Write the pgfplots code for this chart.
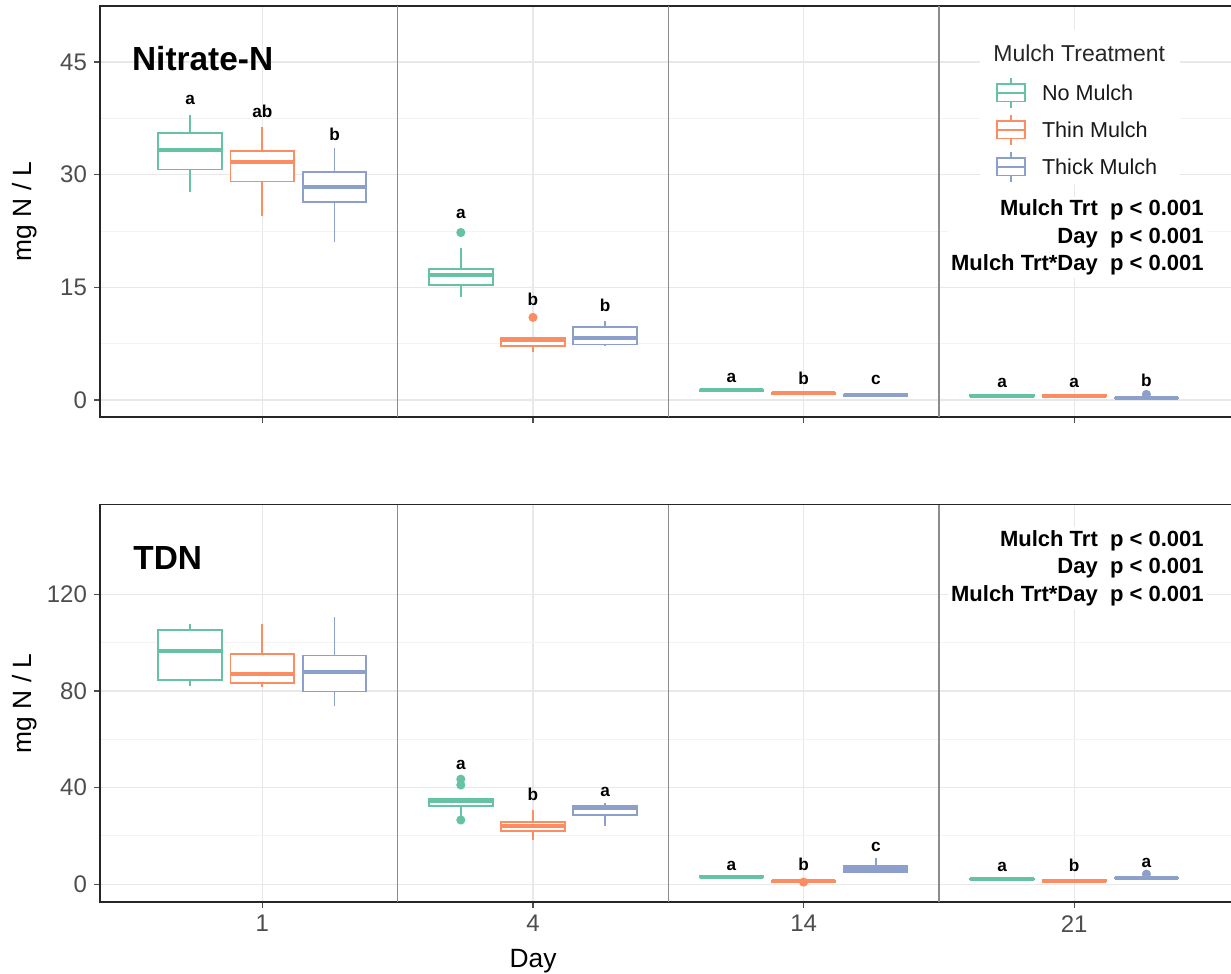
\documentclass[border=0pt]{standalone}
\usepackage{pgfplots}
\pgfplotsset{compat=1.18}
\usepgfplotslibrary{statistics}
\usepackage{fontspec}
\setmainfont{Liberation Sans}
\definecolor{cA}{HTML}{66C2A5}
\definecolor{cB}{HTML}{FC8D62}
\definecolor{cC}{HTML}{8DA0CB}
\definecolor{gridmaj}{HTML}{E8E8E8}
\definecolor{gridmin}{HTML}{F3F3F3}
\definecolor{tickgrey}{HTML}{4D4D4D}

\newcommand{\bp}[8]{%
 \addplot[forget plot, draw=#1, fill=white, line width=0.9pt, mark=*, mark size=1.8pt,
   mark options={draw=#1,fill=#1,solid},
   boxplot prepared={draw direction=y, draw position=#2, lower whisker=#3, lower quartile=#4,
   median=#5, upper quartile=#6, upper whisker=#7}] coordinates {#8};}
\newcommand{\lab}[3]{\node[anchor=base, inner sep=0pt, font=\bfseries\fontsize{8.6}{8.6}\selectfont] at (axis cs:#1,#2) {#3};}

\pgfplotsset{panel/.style={
  scale only axis, width=568.3pt, xmin=0.4, xmax=4.6,
  xtick={1,2,3,4}, xtick pos=bottom, ytick pos=left,
  tick align=outside, major tick length=3pt, minor tick length=0pt,
  tick style={color=tickgrey, line width=0.6pt},
  xmajorgrids, ymajorgrids, yminorgrids, minor y tick num=1,
  major grid style={color=gridmaj, line width=0.7pt},
  minor grid style={color=gridmin, line width=0.5pt},
  extra x ticks={1.5,2.5,3.5}, extra x tick labels={},
  extra x tick style={grid=major, major grid style={color=black!45, line width=0.8pt}, major tick length=0pt},
  axis line style={black!85, line width=0.8pt},
  ticklabel style={font=\fontsize{12}{12}\selectfont, color=tickgrey},
  /pgf/number format/assume math mode=true,
  boxplot/draw direction=y,
  boxplot/box extend=0.235, boxplot/whisker extend=0,
  boxplot/every median/.style={line width=2pt},
  boxplot/every whisker/.style={line width=0.9pt},
  boxplot/every box/.style={line width=0.9pt},
  ylabel={mg N / L},
  ylabel style={font=\fontsize{13.2}{13.2}\selectfont, at={(axis description cs:-0.066,0.5)}, anchor=center},
}}

\begin{document}
\begin{tikzpicture}
% ---------- Nitrate-N ----------
\begin{axis}[panel, at={(50pt,278.5pt)}, anchor=south west, height=205.5pt,
  ymin=-2.26, ymax=52.46, ytick={0,15,30,45}, xticklabels={}]
\bp{cA}{0.7333}{27.7}{30.7}{33.3}{35.6}{37.9}{}
\bp{cB}{1}{24.5}{29.1}{31.7}{33.2}{36.3}{}
\bp{cC}{1.2667}{21.0}{26.4}{28.3}{30.4}{33.6}{}
\bp{cA}{1.7333}{13.7}{15.3}{16.6}{17.4}{20.2}{(0,22.3)}
\bp{cB}{2}{6.4}{7.2}{8.0}{8.3}{8.3}{(0,11.0)}
\bp{cC}{2.2667}{7.2}{7.4}{8.3}{9.7}{10.5}{}
\bp{cA}{2.7333}{1.1}{1.2}{1.3}{1.4}{1.5}{}
\bp{cB}{3}{0.8}{0.85}{0.95}{1.0}{1.05}{}
\bp{cC}{3.2667}{0.45}{0.55}{0.62}{0.7}{0.95}{}
\bp{cA}{3.7333}{0.5}{0.55}{0.6}{0.65}{0.7}{}
\bp{cB}{4}{0.5}{0.55}{0.6}{0.65}{0.7}{}
\bp{cC}{4.2667}{0.15}{0.2}{0.27}{0.33}{0.4}{(0,0.75)}
\lab{0.7333}{39.3}{a}\lab{1}{37.6}{ab}\lab{1.2667}{34.6}{b}
\lab{1.7333}{24.1}{a}\lab{2}{12.6}{b}\lab{2.2667}{11.8}{b}
\lab{2.7333}{2.36}{a}\lab{3}{2.09}{b}\lab{3.2667}{2.09}{c}
\lab{3.7333}{1.64}{a}\lab{4}{1.64}{a}\lab{4.2667}{1.77}{b}
\end{axis}
% ---------- TDN ----------
\begin{axis}[panel, at={(50pt,35.85pt)}, anchor=south west, height=198.8pt,
  ymin=-7.45, ymax=157.1, ytick={0,40,80,120}, xticklabels={1,4,14,21},
  xlabel={Day},
  xlabel style={font=\fontsize{13.2}{13.2}\selectfont, at={(axis description cs:0.381,0)}, anchor=center, yshift=-29.3pt}]
\bp{cA}{0.7333}{82.0}{84.5}{96.5}{105.2}{107.7}{}
\bp{cB}{1}{81.5}{83.4}{87.0}{95.2}{107.7}{}
\bp{cC}{1.2667}{73.9}{79.8}{87.7}{94.7}{110.7}{}
\bp{cA}{1.7333}{28.3}{32.3}{34.6}{35.4}{35.4}{(0,43.5) (0,41.1) (0,26.6)}
\bp{cB}{2}{18.4}{22.1}{24.2}{25.9}{30.8}{}
\bp{cC}{2.2667}{24.2}{28.6}{31.6}{32.6}{33.8}{}
\bp{cA}{2.7333}{2.9}{3.0}{3.2}{3.4}{3.5}{}
\bp{cB}{3}{1.0}{1.1}{1.3}{1.5}{1.7}{(0,0.9)}
\bp{cC}{3.2667}{4.5}{5.0}{6.2}{7.7}{10.8}{}
\bp{cA}{3.7333}{1.9}{2.0}{2.2}{2.4}{2.5}{}
\bp{cB}{4}{1.2}{1.35}{1.5}{1.65}{1.8}{}
\bp{cC}{4.2667}{2.3}{2.45}{2.6}{2.75}{2.9}{(0,4.2)}
\lab{1.7333}{47.6}{a}\lab{2}{34.5}{b}\lab{2.2667}{36.3}{a}
\lab{2.7333}{5.6}{a}\lab{3}{5.6}{b}\lab{3.2667}{13.5}{c}
\lab{3.7333}{5.3}{a}\lab{4}{5.3}{b}\lab{4.2667}{6.9}{a}
\end{axis}
% ---------- annotations ----------
\node[anchor=west, inner sep=0pt, font=\bfseries\fontsize{16.7}{16.7}\selectfont] at (65.85pt,457.5pt) {Nitrate-N};
\node[anchor=west, inner sep=0pt, font=\bfseries\fontsize{16.7}{16.7}\selectfont] at (66.5pt,208pt) {TDN};
\node[anchor=east, align=right, fill=white, inner sep=1.5pt, font=\bfseries\fontsize{11}{13.75}\selectfont] at (603.5pt,368.3pt)
  {Mulch Trt\ \ p < 0.001\\Day\ \ p < 0.001\\Mulch Trt*Day\ \ p < 0.001};
\node[anchor=east, align=right, fill=white, inner sep=1.5pt, font=\bfseries\fontsize{11}{13.75}\selectfont] at (603.5pt,202.9pt)
  {Mulch Trt\ \ p < 0.001\\Day\ \ p < 0.001\\Mulch Trt*Day\ \ p < 0.001};
% legend
\fill[white] (490pt,395pt) rectangle (590pt,472pt);
\node[anchor=west, inner sep=0pt, text=black!85, font=\fontsize{11.5}{11.5}\selectfont] at (496.5pt,460.5pt) {Mulch Treatment};
\foreach \c/\y/\t in {cA/440.5/No Mulch, cB/422/Thin Mulch, cC/403.5/Thick Mulch}{
  \draw[\c, line width=0.7pt, fill=white] (498.5pt,\y pt-4.4pt) rectangle (512.5pt,\y pt+4.4pt);
  \draw[\c, line width=0.7pt] (498.5pt,\y pt) -- (512.5pt,\y pt);
  \draw[\c, line width=0.7pt] (505.5pt,\y pt+4.4pt) -- (505.5pt,\y pt+7.3pt);
  \draw[\c, line width=0.7pt] (505.5pt,\y pt-4.4pt) -- (505.5pt,\y pt-7.3pt);
  \node[anchor=west, inner sep=0pt, text=black!90, font=\fontsize{10.8}{10.8}\selectfont] at (520.8pt,\y pt) {\t};
}
\pgfresetboundingbox
\path[use as bounding box] (0,0) rectangle (615.5pt,487pt);
\end{tikzpicture}
\end{document}
